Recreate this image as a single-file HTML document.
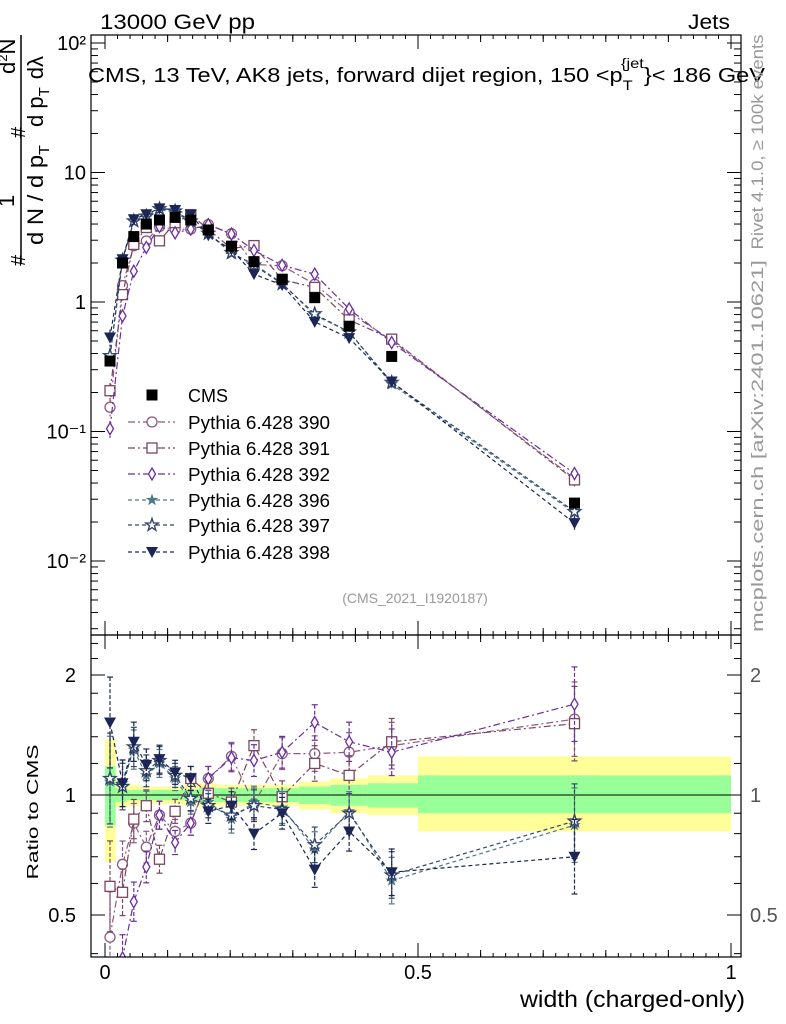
<!DOCTYPE html>
<html><head><meta charset="utf-8"><style>
body{margin:0;background:#fff}
svg{display:block;font-family:"Liberation Sans",sans-serif}
</style></head><body>
<svg id="c" width="786" height="1024" viewBox="0 0 786 1024">
<defs>
<clipPath id="cm"><rect x="91" y="35" width="650" height="600"/></clipPath>
<clipPath id="cr"><rect x="91" y="635" width="650" height="322"/></clipPath>
</defs>
<rect x="0" y="0" width="786" height="1024" fill="#fff"/>
<g id="bands" clip-path="url(#cr)"></g>
<g id="gmain" clip-path="url(#cm)"></g>
<g id="gratio" clip-path="url(#cr)"></g>
<g id="axes"></g>
<text x="100" y="29" font-size="21" textLength="155" lengthAdjust="spacingAndGlyphs">13000 GeV pp</text>
<text x="688" y="29" font-size="21" textLength="42" lengthAdjust="spacingAndGlyphs">Jets</text>
<text x="88" y="82" font-size="20" textLength="677" lengthAdjust="spacingAndGlyphs">CMS, 13 TeV, AK8 jets, forward dijet region, 150 &lt;p<tspan font-size="14" dy="8">T</tspan><tspan font-size="14" dy="-22" dx="-10">{jet</tspan><tspan dy="14">}&lt; 186 GeV</tspan></text>
<text x="415" y="603" font-size="14" fill="#999" text-anchor="middle">(CMS_2021_I1920187)</text>
<text transform="translate(763,142) rotate(-90)" font-size="17" fill="#999" text-anchor="middle" textLength="215" lengthAdjust="spacingAndGlyphs">Rivet 4.1.0, ≥ 100k events</text>
<text transform="translate(763,446) rotate(-90)" font-size="17" fill="#999" text-anchor="middle" textLength="372" lengthAdjust="spacingAndGlyphs">mcplots.cern.ch [arXiv:2401.10621]</text>
<text x="520" y="1007" font-size="23" textLength="225" lengthAdjust="spacingAndGlyphs">width (charged-only)</text>
<text transform="translate(38,812) rotate(-90)" font-size="16" text-anchor="middle" textLength="135" lengthAdjust="spacingAndGlyphs">Ratio to CMS</text>
<g font-size="22">
<text transform="translate(25,266) rotate(-90)" font-size="20">#</text>
<text transform="translate(14,207) rotate(-90)">1</text>
<line x1="21" y1="264" x2="21" y2="35" stroke="#000" stroke-width="1.5"/>
<text transform="translate(43,245) rotate(-90)" textLength="100" lengthAdjust="spacingAndGlyphs">d N / d p<tspan font-size="15" dy="6">T</tspan></text>
<text transform="translate(25,138) rotate(-90)" font-size="20">#</text>
<text transform="translate(43,127) rotate(-90)">d p<tspan font-size="15" dy="6">T</tspan><tspan dx="8" dy="-6">dλ</tspan></text>
<text transform="translate(15,74) rotate(-90)">d<tspan font-size="13" dy="-8">2</tspan><tspan dy="8">N</tspan></text>
</g>
<g id="legend"></g>
</svg>
<script>
// ---- data ----
const binEdges = [0,0.017,0.035,0.055,0.075,0.1,0.125,0.15,0.18,0.22,0.26,0.31,0.36,0.42,0.5,1.0];
const xCenters = [0.008,0.028,0.046,0.066,0.087,0.112,0.137,0.165,0.202,0.238,0.283,0.335,0.39,0.458,0.75];
const cmsValues = [0.35,2.0,3.2,4.0,4.3,4.5,4.3,3.6,2.7,2.05,1.5,1.08,0.65,0.38,0.028];
const bandYellowUp = [1.38,1.08,1.06,1.05,1.05,1.05,1.06,1.07,1.06,1.06,1.06,1.08,1.10,1.12,1.25];
const bandYellowDn = [0.68,0.93,0.94,0.95,0.95,0.95,0.94,0.93,0.94,0.94,0.94,0.92,0.90,0.89,0.81];
const bandGreenUp = [1.18,1.04,1.03,1.03,1.03,1.03,1.03,1.04,1.04,1.04,1.04,1.05,1.06,1.07,1.12];
const bandGreenDn = [0.84,0.96,0.97,0.97,0.97,0.97,0.97,0.96,0.96,0.96,0.96,0.95,0.94,0.93,0.90];
const relErr = [0.25,0.12,0.1,0.08,0.07,0.06,0.06,0.06,0.07,0.08,0.08,0.09,0.1,0.12,0.2];
const ratio390 = [0.44,0.67,0.85,0.74,0.89,0.81,0.85,1.10,1.25,0.95,1.27,1.27,1.28,1.33,1.55];
const ratio391 = [0.59,0.57,0.87,0.94,0.69,0.91,1.10,1.01,0.96,1.33,0.99,1.20,1.12,1.36,1.51];
const ratio392 = [0.30,0.39,0.54,0.66,0.89,0.76,0.85,1.10,1.24,1.22,1.28,1.52,1.36,1.28,1.69];
const ratio396 = [1.08,1.07,1.30,1.12,1.20,1.10,0.96,0.96,0.87,0.96,0.93,0.73,0.91,0.61,0.84];
const ratio397 = [1.10,1.05,1.32,1.15,1.22,1.12,0.98,0.94,0.89,0.94,0.92,0.75,0.90,0.63,0.86];
const ratio398 = [1.52,1.07,1.36,1.19,1.23,1.14,1.10,0.91,0.94,0.80,0.90,0.65,0.81,0.64,0.70];
const seriesNames = ["Pythia 6.428 390","Pythia 6.428 391","Pythia 6.428 392","Pythia 6.428 396","Pythia 6.428 397","Pythia 6.428 398"];
const mainTickLabels = ["10²","10","1","10⁻¹","10⁻²"];
const mainTickValues = [100,10,1,0.1,0.01];
const ratioTickLabels = ["2","1","0.5"];
const ratioTickValues = [2,1,0.5];
const xTickLabels = ["0","0.5","1"];
const xTickValues = [0,0.5,1];

// ---- scales ----
const X = v => 105 + v*626;
const YM = v => 302 - 129.5*Math.log10(v);
const YR = r => 795 - 120*Math.log2(r);
const NS = "http://www.w3.org/2000/svg";
function mk(tag, attrs, parent){const e=document.createElementNS(NS,tag);for(const k in attrs)e.setAttribute(k,attrs[k]);parent.appendChild(e);return e;}
const gm=document.getElementById('gmain'), gr=document.getElementById('gratio'), gb=document.getElementById('bands'), ga=document.getElementById('axes'), gl=document.getElementById('legend');

// bands
for(let i=0;i<cmsValues.length;i++){
  const x0=X(binEdges[i]), x1=X(binEdges[i+1]);
  let r=mk('rect',{x:x0,y:YR(bandYellowUp[i]),width:x1-x0,height:YR(bandYellowDn[i])-YR(bandYellowUp[i]),fill:'#ffff99'},gb);
  
  
  r=mk('rect',{x:x0,y:YR(bandGreenUp[i]),width:x1-x0,height:YR(bandGreenDn[i])-YR(bandGreenUp[i]),fill:'#99ff99'},gb);
  
  
}
mk('line',{x1:91,x2:741,y1:795,y2:795,stroke:'#000','stroke-width':1},gb);

const series=[
 {r:ratio390,c:'#8a5a80',m:'circle',d:'7,3,2,3'},
 {r:ratio391,c:'#7a4660',m:'square',d:'7,3,2,3'},
 {r:ratio392,c:'#6a2ea0',m:'diamond',d:'7,3,2,3'},
 {r:ratio396,c:'#4f7888',m:'star',d:'4,3'},
 {r:ratio397,c:'#34466a',m:'ostar',d:'4,3'},
 {r:ratio398,c:'#1c2656',m:'tri',d:'4,3'}];

function marker(g,type,x,y,c){
  let e;
  if(type==='circle') e=mk('circle',{cx:x,cy:y,r:5,fill:'#fff',stroke:c,'stroke-width':1.3},g);
  else if(type==='square') e=mk('rect',{x:x-5,y:y-5,width:10,height:10,fill:'#fff',stroke:c,'stroke-width':1.3},g);
  else if(type==='diamond') e=mk('polygon',{points:`${x},${y-6} ${x+3.5},${y} ${x},${y+6} ${x-3.5},${y}`,fill:'#fff',stroke:c,'stroke-width':1.3},g);
  else if(type==='star'||type==='ostar'){let p=[];for(let k=0;k<10;k++){const a=-Math.PI/2+k*Math.PI/5,rr=k%2?2.6:6.5;p.push((x+rr*Math.cos(a)).toFixed(1)+','+(y+rr*Math.sin(a)).toFixed(1));}
    e=type==='star'?mk('polygon',{points:p.join(' '),fill:c},g):mk('polygon',{points:p.join(' '),fill:'#fff',stroke:c,'stroke-width':1.4},g);}
  else if(type==='tri') e=mk('polygon',{points:`${x-6},${y-5} ${x+6},${y-5} ${x},${y+6}`,fill:c},g);
  else e=mk('rect',{x:x-5.5,y:y-5.5,width:11,height:11,fill:c},g);
  return e;
}

series.forEach((s,si)=>{
  const name='series-'+seriesNames[si].split(' ').pop();
  const ptsM=[], ptsR=[];
  xCenters.forEach((xc,i)=>{ptsM.push(X(xc)+','+YM(cmsValues[i]*s.r[i]));ptsR.push(X(xc)+','+YR(s.r[i]));});
  let l=mk('polyline',{points:ptsM.join(' '),fill:'none',stroke:s.c,'stroke-width':1.2,'stroke-dasharray':s.d},gm);
  
  
  l=mk('polyline',{points:ptsR.join(' '),fill:'none',stroke:s.c,'stroke-width':1.2,'stroke-dasharray':s.d},gr);
  
  
  xCenters.forEach((xc,i)=>{
    const v=cmsValues[i]*s.r[i], e=relErr[i]*0.6;
    const x=X(xc);
    mk('line',{x1:x,x2:x,y1:YM(v*(1+e)),y2:YM(v*(1-e)),stroke:s.c,'stroke-width':1.2,'stroke-dasharray':'3,2'},gm);
    let m=marker(gm,s.m,x,YM(v),s.c);
    
    
    const r=s.r[i], er=relErr[i]*1.2;
    mk('line',{x1:x,x2:x,y1:YR(r*(1+er)),y2:YR(r/(1+er)),stroke:s.c,'stroke-width':1.2,'stroke-dasharray':'4,2'},gr);
    mk('line',{x1:x-3,x2:x+3,y1:YR(r*(1+er)),y2:YR(r*(1+er)),stroke:s.c,'stroke-width':1.2},gr);
    mk('line',{x1:x-3,x2:x+3,y1:YR(r/(1+er)),y2:YR(r/(1+er)),stroke:s.c,'stroke-width':1.2},gr);
    m=marker(gr,s.m,x,YR(r),s.c);
    
    
  });
});
xCenters.forEach((xc,i)=>{
  const m=marker(gm,'cms',X(xc),YM(cmsValues[i]),'#000');
  
  
});

// axes frames
[[35,600],[635,322]].forEach(([y,h])=>mk('rect',{x:91,y:y,width:650,height:h,fill:'none',stroke:'#000','stroke-width':1.2},ga));
for(let v=0;v<=1.0001;v+=0.1){
  const x=X(v), big=Math.abs(v*2-Math.round(v*2))<1e-6;
  const L=big?14:7;
  [[35,1],[635,-1],[635,1],[957,-1]].forEach(([y,d])=>mk('line',{x1:x,x2:x,y1:y,y2:y+d*L,stroke:'#000'},ga));
}
for(let v=0;v<=1.0001;v+=0.02){const x=X(v);[[35,1],[635,-1],[635,1],[957,-1]].forEach(([y,d])=>mk('line',{x1:x,x2:x,y1:y,y2:y+d*4,stroke:'#000'},ga));}
xTickLabels.forEach((t,i)=>{
  const e=mk('text',{x:X(xTickValues[i]),y:979,'font-size':20,'text-anchor':'middle'},ga);e.textContent=t;
  
  
});
for(let d=-3;d<=2;d++){for(let k=1;k<10;k++){const v=k*Math.pow(10,d),y=YM(v);if(y<35||y>635)continue;const L=k===1?14:7;
  mk('line',{x1:91,x2:91+L,y1:y,y2:y,stroke:'#000'},ga);mk('line',{x1:741,x2:741-L,y1:y,y2:y,stroke:'#000'},ga);}}
mainTickLabels.forEach((t,i)=>{
  const e=mk('text',{x:86,y:YM(mainTickValues[i])+7,'font-size':20,'text-anchor':'end'},ga);
  e.textContent=t;
  
  
});
[0.4,0.5,0.6,0.7,0.8,0.9,1,1.2,1.4,1.6,1.8,2,2.2,2.4].forEach(v=>{const y=YR(v);const L=(v===0.5||v===1||v===2)?14:7;
  mk('line',{x1:91,x2:91+L,y1:y,y2:y,stroke:'#000'},ga);mk('line',{x1:741,x2:741-L,y1:y,y2:y,stroke:'#000'},ga);});
ratioTickLabels.forEach((t,i)=>{
  let e=mk('text',{x:76,y:YR(ratioTickValues[i])+7,'font-size':20,'text-anchor':'end'},ga);e.textContent=t;
  
  
  e=mk('text',{x:750,y:YR(ratioTickValues[i])+7,'font-size':20,fill:'#555'},ga);e.textContent=t;
  
  
});

// legend
const legendY=[395,422,448,474,500,525,552];
let le=marker(gl,'cms',152,legendY[0],'#000');


let lt=mk('text',{x:188,y:legendY[0]+7,'font-size':18},gl);lt.textContent='CMS';


series.forEach((s,si)=>{
  const y=legendY[si+1];
  mk('line',{x1:128,x2:175,y1:y,y2:y,stroke:s.c,'stroke-width':1.2,'stroke-dasharray':s.d},gl);
  const m=marker(gl,s.m,152,y,s.c);
  
  
  const t=mk('text',{x:188,y:y+7,'font-size':18,textLength:142,lengthAdjust:'spacingAndGlyphs'},gl);t.textContent=seriesNames[si];
  
  
});
</script>
</body></html>
